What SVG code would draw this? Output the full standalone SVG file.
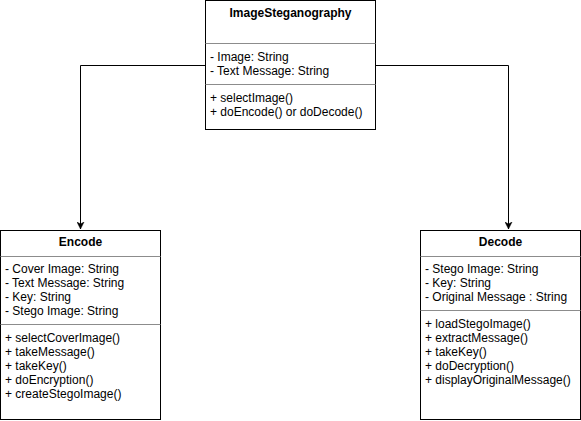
<svg xmlns="http://www.w3.org/2000/svg" width="581" height="421" viewBox="0 0 581 421">
<style>
.box{fill:#fff;stroke:#000;stroke-width:1}
.sep{stroke:#8c8c8c;stroke-width:1}
.t{font-family:"Liberation Sans",Arial,sans-serif;font-size:12px;fill:#000}
.b{font-weight:bold;text-anchor:middle}
.c{fill:none;stroke:#000;stroke-width:1}
</style>
<defs>
<marker id="arr" markerWidth="8" markerHeight="8" refX="7" refY="4" orient="auto" markerUnits="userSpaceOnUse">
<path d="M0,0.5 L7,4 L0,7.5 L2,4 Z" fill="#000" stroke="#000" stroke-width="0.5"/>
</marker>
</defs>
<rect width="581" height="421" fill="#fff"/>
<g id="connectors">
<path class="c" d="M205.5,65.5 H80.5 V229" marker-end="url(#arr)"/>
<path class="c" d="M375.5,65.5 H508.5 V229" marker-end="url(#arr)"/>
</g>
<g id="ImageSteganography">
<rect class="box" x="205.5" y="0.5" width="170" height="129"/>
<line class="sep" x1="205.5" y1="43.5" x2="375.5" y2="43.5"/>
<line class="sep" x1="205.5" y1="84.5" x2="375.5" y2="84.5"/>
<text class="t b" x="290.5" y="17">ImageSteganography</text>
<text class="t" x="210" y="61">- Image: String</text>
<text class="t" x="210" y="75">- Text Message: String</text>
<text class="t" x="210" y="102">+ selectImage()</text>
<text class="t" x="210" y="116">+ doEncode() or doDecode()</text>
</g>
<g id="Encode">
<rect class="box" x="0.5" y="230.5" width="160" height="189"/>
<line class="sep" x1="0.5" y1="256.5" x2="160.5" y2="256.5"/>
<line class="sep" x1="0.5" y1="324.5" x2="160.5" y2="324.5"/>
<text class="t b" x="80.5" y="246">Encode</text>
<text class="t" x="5" y="273">- Cover Image: String</text>
<text class="t" x="5" y="287">- Text Message: String</text>
<text class="t" x="5" y="301">- Key: String</text>
<text class="t" x="5" y="315">- Stego Image: String</text>
<text class="t" x="5" y="342">+ selectCoverImage()</text>
<text class="t" x="5" y="356">+ takeMessage()</text>
<text class="t" x="5" y="370">+ takeKey()</text>
<text class="t" x="5" y="384">+ doEncryption()</text>
<text class="t" x="5" y="398">+ createStegoImage()</text>
</g>
<g id="Decode">
<rect class="box" x="420.5" y="230.5" width="160" height="189"/>
<line class="sep" x1="420.5" y1="256.5" x2="580.5" y2="256.5"/>
<line class="sep" x1="420.5" y1="310.5" x2="580.5" y2="310.5"/>
<text class="t b" x="500.5" y="246">Decode</text>
<text class="t" x="425" y="273">- Stego Image: String</text>
<text class="t" x="425" y="287">- Key: String</text>
<text class="t" x="425" y="301">- Original Message : String</text>
<text class="t" x="425" y="328">+ loadStegoImage()</text>
<text class="t" x="425" y="342">+ extractMessage()</text>
<text class="t" x="425" y="356">+ takeKey()</text>
<text class="t" x="425" y="370">+ doDecryption()</text>
<text class="t" x="425" y="384">+ displayOriginalMessage()</text>
</g>
</svg>
